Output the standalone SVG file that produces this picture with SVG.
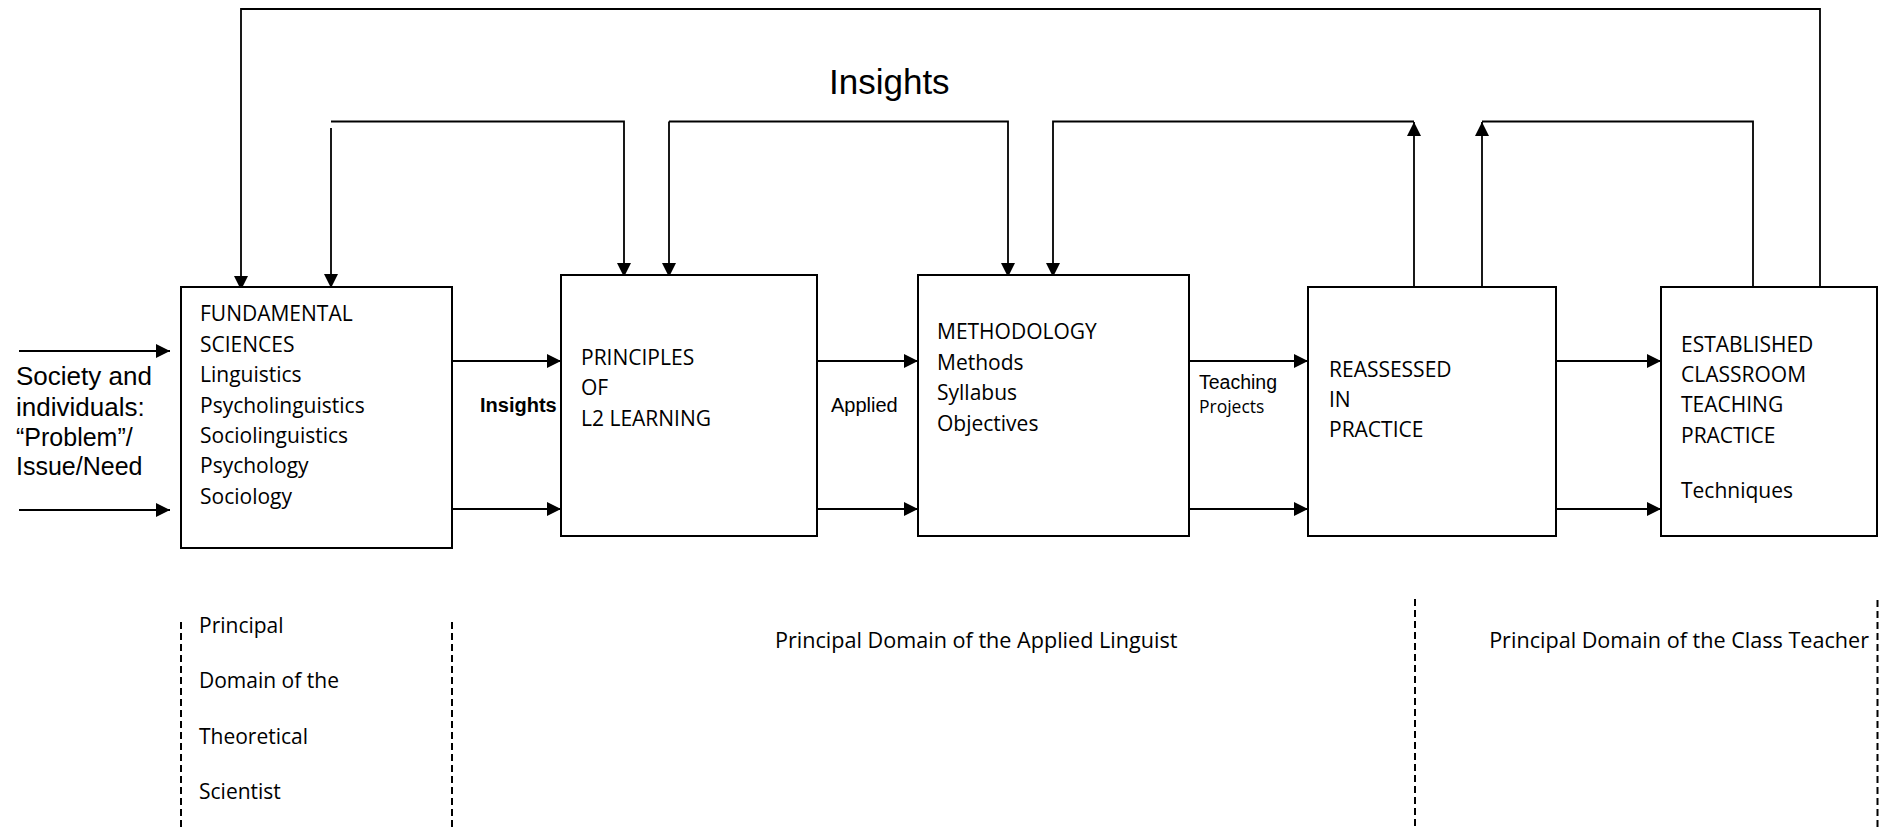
<svg xmlns="http://www.w3.org/2000/svg" width="1886" height="828" viewBox="0 0 1886 828">
<style>
.box{fill:#fff;stroke:#000;stroke-width:2}
.c{fill:none;stroke:#000;stroke-width:1.8}
.a{marker-end:url(#ah)}
.d{fill:none;stroke:#000;stroke-width:2;stroke-dasharray:7 4}
.t{font-family:"Open Sans","Noto Sans",sans-serif;font-size:21px;fill:#000}
.dm{font-size:21.6px}
.ar{font-family:"Liberation Sans",Arial,sans-serif;fill:#000}
</style>
<defs>
<marker id="ah" markerUnits="userSpaceOnUse" markerWidth="14" markerHeight="14" refX="14" refY="7" orient="auto-start-reverse" viewBox="0 0 14 14">
<path d="M0,0 L14,7 L0,14 z" fill="#000"/>
</marker>
</defs>
<rect width="1886" height="828" fill="#fff"/>

<g id="connectors">
<line class="c a" x1="19" y1="351" x2="170" y2="351"/>
<line class="c a" x1="19" y1="510" x2="170" y2="510"/>
<line class="c a" x1="452" y1="361" x2="561" y2="361"/>
<line class="c a" x1="452" y1="509" x2="561" y2="509"/>
<line class="c a" x1="812" y1="361" x2="918" y2="361"/>
<line class="c a" x1="812" y1="509" x2="918" y2="509"/>
<line class="c a" x1="1189" y1="361" x2="1308" y2="361"/>
<line class="c a" x1="1189" y1="509" x2="1308" y2="509"/>
<line class="c a" x1="1556" y1="361" x2="1661" y2="361"/>
<line class="c a" x1="1556" y1="509" x2="1661" y2="509"/>
<path class="c a" d="M1820,287 V9 H241 V290"/>
<path class="c a" d="M331,128 V288"/>
<path class="c a" d="M331,121.5 H624 V277"/>
<path class="c a" d="M669,121.5 H1008 V277"/>
<path class="c a" d="M669,121.5 V277"/>
<path class="c a" d="M1414,121.5 H1053 V277"/>
<path class="c a" d="M1414,287 V122"/>
<path class="c a" d="M1482,287 V122"/>
<path class="c" d="M1482,121.5 H1753 V287"/>
<line class="d" x1="181" y1="622" x2="181" y2="828"/>
<line class="d" x1="452" y1="622" x2="452" y2="828"/>
<line class="d" x1="1415" y1="599" x2="1415" y2="828"/>
<line class="d" x1="1877.5" y1="600" x2="1877.5" y2="828"/>
</g>

<g id="labels">
<text class="ar" x="829" y="94" font-size="35">Insights</text>
<text class="ar" x="480" y="412" font-size="20" font-weight="bold">Insights</text>
<text class="ar" x="831" y="412" font-size="20">Applied</text>
<text class="ar" x="1199" y="389" font-size="19.5">Teaching</text>
<text class="t" x="1199" y="413" style="font-size:17.5px">Projects</text>
</g>

<g id="society">
<text class="ar" font-size="26" x="16" y="385">Society and</text>
<text class="ar" font-size="26" x="16" y="416">individuals:</text>
<text class="ar" font-size="25" x="16" y="446">“Problem”/</text>
<text class="ar" font-size="25" x="16" y="475">Issue/Need</text>
</g>

<g id="fundamental">
<rect class="box" x="181" y="287" width="271" height="261"/>
<text class="t" x="200" y="321">FUNDAMENTAL</text>
<text class="t" x="200" y="351.5">SCIENCES</text>
<text class="t" x="200" y="382">Linguistics</text>
<text class="t" x="200" y="412.5">Psycholinguistics</text>
<text class="t" x="200" y="443">Sociolinguistics</text>
<text class="t" x="200" y="473">Psychology</text>
<text class="t" x="200" y="503.5">Sociology</text>
</g>

<g id="principles">
<rect class="box" x="561" y="275" width="256" height="261"/>
<text class="t" x="581" y="365">PRINCIPLES</text>
<text class="t" x="581" y="395">OF</text>
<text class="t" x="581" y="425.5">L2 LEARNING</text>
</g>

<g id="methodology">
<rect class="box" x="918" y="275" width="271" height="261"/>
<text class="t" x="937" y="339">METHODOLOGY</text>
<text class="t" x="937" y="369.5">Methods</text>
<text class="t" x="937" y="400">Syllabus</text>
<text class="t" x="937" y="430.5">Objectives</text>
</g>

<g id="reassessed">
<rect class="box" x="1308" y="287" width="248" height="249"/>
<text class="t" x="1329" y="376.5">REASSESSED</text>
<text class="t" x="1329" y="406.5">IN</text>
<text class="t" x="1329" y="437">PRACTICE</text>
</g>

<g id="established">
<rect class="box" x="1661" y="287" width="216" height="249"/>
<text class="t" x="1681" y="351.5">ESTABLISHED</text>
<text class="t" x="1681" y="381.5">CLASSROOM</text>
<text class="t" x="1681" y="412">TEACHING</text>
<text class="t" x="1681" y="442.5">PRACTICE</text>
<text class="t" x="1681" y="498">Techniques</text>
</g>

<g id="domains">
<text class="t" x="199" y="633">Principal</text>
<text class="t" x="199" y="688">Domain of the</text>
<text class="t" x="199" y="744">Theoretical</text>
<text class="t" x="199" y="799">Scientist</text>
<text class="t dm" x="775" y="648">Principal Domain of the Applied Linguist</text>
<text class="t dm" x="1869" y="648" text-anchor="end">Principal Domain of the Class Teacher</text>
</g>
</svg>
